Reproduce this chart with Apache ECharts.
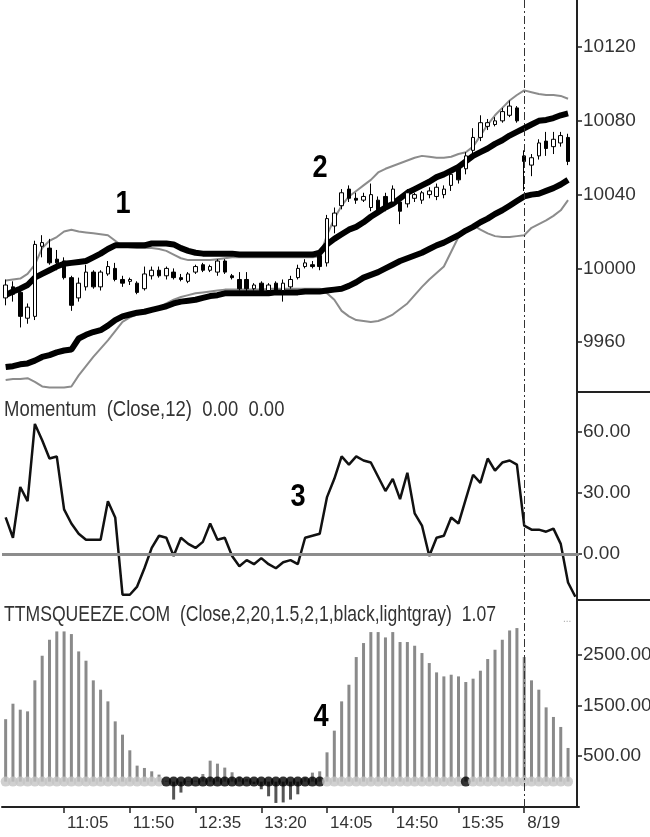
<!DOCTYPE html>
<html>

<head>
    <meta charset="utf-8">
    <script src="https://cdn.jsdelivr.net/npm/echarts@6/dist/echarts.min.js"></script>
    <style>
        body { margin: 0; background: #fff; }
    </style>
</head>

<body>
    <div id="main" style="width: 650px;height:837px;"></div>
    <script type="text/javascript">
        var FONT = "'Liberation Sans', Arial, sans-serif";

        // x axis: 5-minute bars, labels every 9 bars
        var tickLabels = ['11:05', '11:50', '12:35', '13:20', '14:05', '14:50', '15:35', '8/19'];

        // [open, close, low, high]
        var ohlc = [
            [9984, 9991, 9980, 9994], [9990, 9986, 9982, 9993], [9987, 9974, 9968, 9990], [9973, 9979, 9970, 9981],
            [9974, 10013, 9972, 10015], [10012, 10014, 10006, 10018], [10011, 10003, 10002, 10016], [10005, 10003, 9999, 10010],
            [10004, 9995, 9994, 10006], [9995, 9980, 9977, 9996], [9984, 9992, 9982, 9995], [9990, 9998, 9988, 10002],
            [9998, 9990, 9989, 9999], [9990, 9998, 9988, 9999], [9997, 10001, 9996, 10004], [10000, 9994, 9993, 10003],
            [9994, 9992, 9990, 9996], [9993, 9994, 9991, 9995], [9992, 9987, 9986, 9993], [9989, 9997, 9988, 10001],
            [9996, 9999, 9994, 10001], [9999, 9996, 9995, 10001], [9996, 10000, 9994, 10001], [9998, 9995, 9994, 10000],
            [9995, 9994, 9993, 9997], [9993, 9997, 9992, 9998], [9998, 10001, 9997, 10002], [10002, 9999, 9998, 10003],
            [9999, 10001, 9998, 10002], [9998, 10004, 9996, 10005], [10004, 9998, 9997, 10005], [9996, 9995, 9994, 9997],
            [9994, 9989, 9988, 9998], [9994, 9989, 9987, 9998], [9989, 9991, 9988, 9992], [9992, 9988, 9987, 9993],
            [9988, 9991, 9987, 9992], [9992, 9988, 9987, 9993], [9988, 9992, 9982, 9994], [9990, 9994, 9989, 9996],
            [9995, 10000, 9994, 10002], [10001, 10003, 10000, 10005], [10002, 10001, 10000, 10004], [10007, 10001, 9999, 10009],
            [10003, 10027, 10001, 10029], [10023, 10030, 10019, 10033], [10034, 10041, 10032, 10043], [10043, 10038, 10036, 10045],
            [10038, 10037, 10035, 10041], [10037, 10039, 10036, 10041], [10033, 10040, 10031, 10046], [10037, 10030, 10029, 10039],
            [10039, 10033, 10031, 10041], [10036, 10043, 10034, 10045], [10036, 10031, 10024, 10038], [10035, 10041, 10033, 10043],
            [10038, 10040, 10036, 10041], [10037, 10041, 10035, 10042], [10040, 10042, 10038, 10044], [10039, 10044, 10037, 10046],
            [10040, 10043, 10038, 10045], [10045, 10051, 10042, 10053], [10055, 10048, 10046, 10056], [10054, 10061, 10051, 10063],
            [10064, 10071, 10060, 10076], [10071, 10079, 10069, 10083], [10077, 10079, 10075, 10081], [10078, 10080, 10077, 10082],
            [10080, 10085, 10079, 10087], [10083, 10088, 10082, 10091], [10087, 10080, 10079, 10088], [10061, 10058, 10042, 10064],
            [10056, 10060, 10050, 10062], [10061, 10068, 10059, 10070], [10069, 10065, 10061, 10074], [10066, 10070, 10062, 10074],
            [10068, 10072, 10066, 10074], [10071, 10058, 10056, 10073]
        ];

        // thick black channel
        var kcUpper = [
            9985.5, 9987.5, 9989, 9991, 9995, 9997, 9999, 10001, 10002.5, 10003, 10003.5, 10004, 10006, 10008, 10010.5, 10012.5,
            10012.5, 10012.5, 10012.5, 10012.5, 10013.5, 10013.5, 10013.5, 10013, 10011, 10009.5, 10008.5, 10008, 10008, 10008,
            10008, 10008, 10007.5, 10007.5, 10007.5, 10007.5, 10007.5, 10007.5, 10007.5, 10007.5, 10007.5, 10007.5, 10007.5, 10008.5,
            10013, 10016, 10018.5, 10021, 10022.5, 10025, 10028, 10030.5, 10033, 10035, 10038, 10041, 10043, 10045, 10047,
            10049.5, 10051, 10053, 10055, 10058, 10061, 10063, 10065, 10067.5, 10069.5, 10072, 10074, 10076, 10078, 10080,
            10080.5, 10081.5, 10083, 10084
        ];
        var kcLower = [
            9946.5, 9947, 9948, 9948.5, 9950, 9952, 9953, 9954.5, 9955.5, 9956, 9962, 9964, 9965.5, 9966.5, 9969, 9972,
            9974, 9975, 9976, 9976.5, 9977.5, 9978.5, 9979.5, 9981, 9982, 9982.5, 9983, 9984, 9985, 9985.5, 9986.5, 9986.5,
            9986.5, 9986.5, 9986.5, 9986.5, 9986.5, 9987, 9987, 9987, 9987, 9987.5, 9987.5, 9987.5, 9988, 9988.5, 9989, 9990.5,
            9992.5, 9995, 9996.5, 9998, 10000, 10002, 10004, 10005.5, 10007, 10008.5, 10010.5, 10012.5, 10014, 10016, 10018,
            10020.5, 10022.5, 10025, 10027, 10029.5, 10031.5, 10034, 10036.5, 10039, 10040, 10040.5, 10042, 10043.5, 10045.5, 10048
        ];

        // thin gray bands
        var bbUpper = [
            9993.5, 9994, 9994.5, 9997, 10002, 10011, 10015, 10017, 10020, 10021, 10020, 10019.5, 10019, 10018.5, 10018, 10015,
            10012, 10011.5, 10011, 10011, 10011, 10010.5, 10009.5, 10007.5, 10005.5, 10004.5, 10004.5, 10004.5, 10004.5, 10005,
            10005.5, 10006, 10006, 10006, 10006, 10006, 10006, 10006, 10006, 10006, 10006, 10006, 10006, 10006.5,
            10018, 10027, 10034, 10039, 10042, 10045, 10048, 10052, 10054, 10055.5, 10057, 10058.5, 10060, 10061, 10060.5,
            10060, 10060, 10060.5, 10062, 10063, 10066, 10072, 10078, 10083, 10087, 10091, 10094, 10096.5, 10095.5, 10094.5,
            10094, 10094, 10093.5, 10092
        ];
        var bbLower = [
            9939.5, 9940, 9940, 9940.5, 9938.5, 9936, 9935.5, 9935.5, 9935.5, 9936, 9942, 9947, 9952, 9956.5, 9961, 9966,
            9971, 9973.5, 9975, 9976, 9977, 9978.5, 9981, 9983, 9984.5, 9985.5, 9986.5, 9987, 9987.5, 9988, 9988.5, 9988.5,
            9988.5, 9988.5, 9988.5, 9988.5, 9989, 9989, 9989, 9989, 9989, 9989, 9989, 9989, 9986.5, 9983, 9977, 9974,
            9972, 9971.5, 9971, 9971.5, 9973, 9975, 9978, 9981, 9985.5, 9990, 9994, 9997.5, 10001, 10009, 10017,
            10021, 10023.5, 10021, 10019, 10017.5, 10017, 10017, 10017.5, 10018, 10022, 10024, 10026, 10028.5, 10031.5, 10037
        ];

        var momentum = [
            18, 8, 33, 26, 64, 56, 47, 48, 22, 15, 10, 7, 7, 7, 26, 18, -20, -20, -16, -7, 3, 9, 8, -1, 8, 5, 3, 6, 15, 7,
            8, -1, -6, -3, -5, -2, -5, -7, -4, -3, -5, 8, 9, 10, 28, 37, 48, 44, 48, 46, 45, 38, 31, 37, 27, 40, 20, 14, -1,
            8, 9, 18, 15, 27, 39, 35, 47, 41, 45, 46, 44, 14, 12, 12, 11, 12.5, 5, -14, -21
        ];

        var squeezeHist = [
            1230, 1535, 1417, 1384, 1995, 2480, 2795, 2959, 2959, 2907, 2565, 2382, 1995, 1811, 1581, 1187, 925, 617, 315, 269,
            203, 138, 20, -354, -216, 10, 20, 150, 413, 354, 276, 184, 100, 50, -50, -150, -289, -420, -410, -354, -250, 80,
            177, 203, 577, 1004, 1581, 1909, 2454, 2730, 2946, 2946, 2841, 2946, 2750, 2750, 2677, 2533, 2336, 2152, 2073, 2106,
            2073, 1962, 2028, 2185, 2415, 2598, 2795, 2978, 3025, 2454, 1995, 1811, 1463, 1274, 1077, 663
        ];
        // 1 = squeeze on (black dot), 0 = off (light gray dot)
        var squeezeOn = [
            0, 0, 0, 0, 0, 0, 0, 0, 0, 0, 0, 0, 0, 0, 0, 0, 0, 0, 0, 0, 0, 0, 1, 1, 1, 1, 1, 1, 1, 1, 1, 1, 1, 1, 1, 1, 1, 1,
            1, 1, 1, 1, 1, 1, 0, 0, 0, 0, 0, 0, 0, 0, 0, 0, 0, 0, 0, 0, 0, 0, 0, 0, 0, 1, 0, 0, 0, 0, 0, 0, 0, 0, 0, 0, 0, 0, 0, 0
        ];

        // categories: 10:25 .. 16:15, then next day
        var categories = [];
        function hhmm(m) {
            var h = Math.floor(m / 60), mm = m % 60;
            return h + ':' + (mm < 10 ? '0' + mm : mm);
        }
        for (var i = 0; i < 79; i++) {
            if (i < 71) categories.push(hhmm(10 * 60 + 25 + 5 * i));
            else if (i === 71) categories.push('8/19');
            else categories.push(hhmm(9 * 60 + 30 + 5 * (i - 71)));
        }

        var chart = echarts.init(document.getElementById('main'));

        var showTick = function (index, value) {
            return tickLabels.indexOf(value) >= 0;
        };

        var dashLine = {
            silent: true,
            symbol: ['none', 'none'],
            label: { show: false },
            lineStyle: { color: '#333', width: 1, type: [8, 3, 2, 3] },
            data: [{ xAxis: '8/19' }]
        };

        function yAxisCfg(grid, min, max, ticks, fmt) {
            return {
                type: 'value',
                gridIndex: grid,
                position: 'right',
                offset: -2,
                min: min,
                max: max,
                scale: true,
                splitLine: { show: false },
                axisLine: { show: true, lineStyle: { color: '#222', width: 2 } },
                axisTick: { show: true, length: 5, inside: false, customValues: ticks, lineStyle: { color: '#222', width: 1.5 } },
                axisLabel: {
                    margin: 6, customValues: ticks, formatter: fmt,
                    color: '#333', fontFamily: FONT, fontSize: 19
                }
            };
        }

        function xAxisCfg(grid, shown) {
            return {
                type: 'category',
                gridIndex: grid,
                data: categories,
                boundaryGap: true,
                axisLine: { show: shown, onZero: false, lineStyle: { color: '#222', width: 2 } },
                axisTick: { show: shown, alignWithLabel: true, interval: showTick, length: 6, lineStyle: { color: '#222', width: 1.5 } },
                axisLabel: {
                    show: shown, interval: showTick, align: 'left', padding: [0, 0, 0, 3], margin: 8,
                    color: '#333', fontFamily: FONT, fontSize: 17
                },
                splitLine: { show: false }
            };
        }

        var histData = squeezeHist.map(function (v) {
            return { value: v, itemStyle: { color: v < 0 ? '#555' : '#8a8a8a' } };
        });
        var dotData = squeezeOn.map(function (on) {
            return { value: 0, itemStyle: { color: on ? '#000' : '#c4c4c4' } };
        });

        function note(txt, x, y) {
            return {
                type: 'text', x: x, y: y, scaleX: 0.85, z: 10,
                style: { text: txt, fill: '#000', font: 'bold 32px ' + FONT, align: 'center', verticalAlign: 'middle' }
            };
        }

        chart.setOption({
            animation: false,
            backgroundColor: '#fff',
            grid: [
                { left: 2, right: 71, top: 0, height: 392, outerBoundsMode: 'none' },
                { left: 2, right: 71, top: 392, height: 208, outerBoundsMode: 'none' },
                { left: 2, right: 71, top: 600, height: 207, outerBoundsMode: 'none' }
            ],
            xAxis: [xAxisCfg(0, false), xAxisCfg(1, false), xAxisCfg(2, true)],
            yAxis: [
                yAxisCfg(0, 9933, 10145.5, [9960, 10000, 10040, 10080, 10120], function (v) { return String(v); }),
                yAxisCfg(1, -22.6, 79.7, [0, 30, 60], function (v) { return v.toFixed(2); }),
                yAxisCfg(2, -500, 3578, [500, 1500, 2500], function (v) { return v.toFixed(2); })
            ],
            graphic: [
                { type: 'line', shape: { x1: 577, y1: 392, x2: 650, y2: 392 }, style: { stroke: '#222', lineWidth: 2 } },
                { type: 'line', shape: { x1: 577, y1: 600, x2: 650, y2: 600 }, style: { stroke: '#222', lineWidth: 2 } },
                {
                    type: 'text', x: 4, y: 399, scaleX: 0.84,
                    style: { text: 'Momentum  (Close,12)  0.00  0.00', fill: '#333', font: '22px ' + FONT, verticalAlign: 'top' }
                },
                {
                    type: 'text', x: 4, y: 604, scaleX: 0.8,
                    style: { text: 'TTMSQUEEZE.COM  (Close,2,20,1.5,2,1,black,lightgray)  1.07', fill: '#333', font: '22px ' + FONT, verticalAlign: 'top' }
                },
                { type: 'text', x: 563, y: 614, style: { text: '...', fill: '#aaa', font: '10px ' + FONT } },
                note('1', 123, 204),
                note('2', 320, 168),
                note('3', 298, 497),
                note('4', 321, 717)
            ],
            series: [
                {
                    name: 'BB upper', type: 'line', xAxisIndex: 0, yAxisIndex: 0, data: bbUpper,
                    symbol: 'none', lineStyle: { color: '#8c8c8c', width: 2 }, z: 2
                },
                {
                    name: 'BB lower', type: 'line', xAxisIndex: 0, yAxisIndex: 0, data: bbLower,
                    symbol: 'none', lineStyle: { color: '#8c8c8c', width: 2 }, z: 2
                },
                {
                    name: 'KC upper', type: 'line', xAxisIndex: 0, yAxisIndex: 0, data: kcUpper,
                    symbol: 'none', lineStyle: { color: '#000', width: 6 }, z: 3
                },
                {
                    name: 'KC lower', type: 'line', xAxisIndex: 0, yAxisIndex: 0, data: kcLower,
                    symbol: 'none', lineStyle: { color: '#000', width: 6 }, z: 3
                },
                {
                    name: 'price', type: 'candlestick', xAxisIndex: 0, yAxisIndex: 0, data: ohlc,
                    barWidth: 4,
                    itemStyle: { color: '#fff', color0: '#000', borderColor: '#000', borderColor0: '#000', borderWidth: 1 },
                    z: 4,
                    markLine: dashLine
                },
                {
                    name: 'Momentum', type: 'line', xAxisIndex: 1, yAxisIndex: 1, data: momentum,
                    symbol: 'none', lineStyle: { color: '#111', width: 2.5 }, z: 3,
                    markLine: {
                        silent: true,
                        symbol: ['none', 'none'],
                        label: { show: false },
                        data: [
                            { yAxis: 0, lineStyle: { color: '#8c8c8c', width: 3, type: 'solid' } },
                            { xAxis: '8/19', lineStyle: { color: '#333', width: 1, type: [8, 3, 2, 3] } }
                        ]
                    }
                },
                {
                    name: 'TTM', type: 'bar', xAxisIndex: 2, yAxisIndex: 2, data: histData,
                    barWidth: 3, z: 2,
                    markLine: dashLine
                },
                {
                    name: 'squeeze', type: 'scatter', xAxisIndex: 2, yAxisIndex: 2, data: dotData,
                    symbol: 'circle', symbolSize: 10, z: 3
                }
            ]
        });
    </script>
</body>

</html>
